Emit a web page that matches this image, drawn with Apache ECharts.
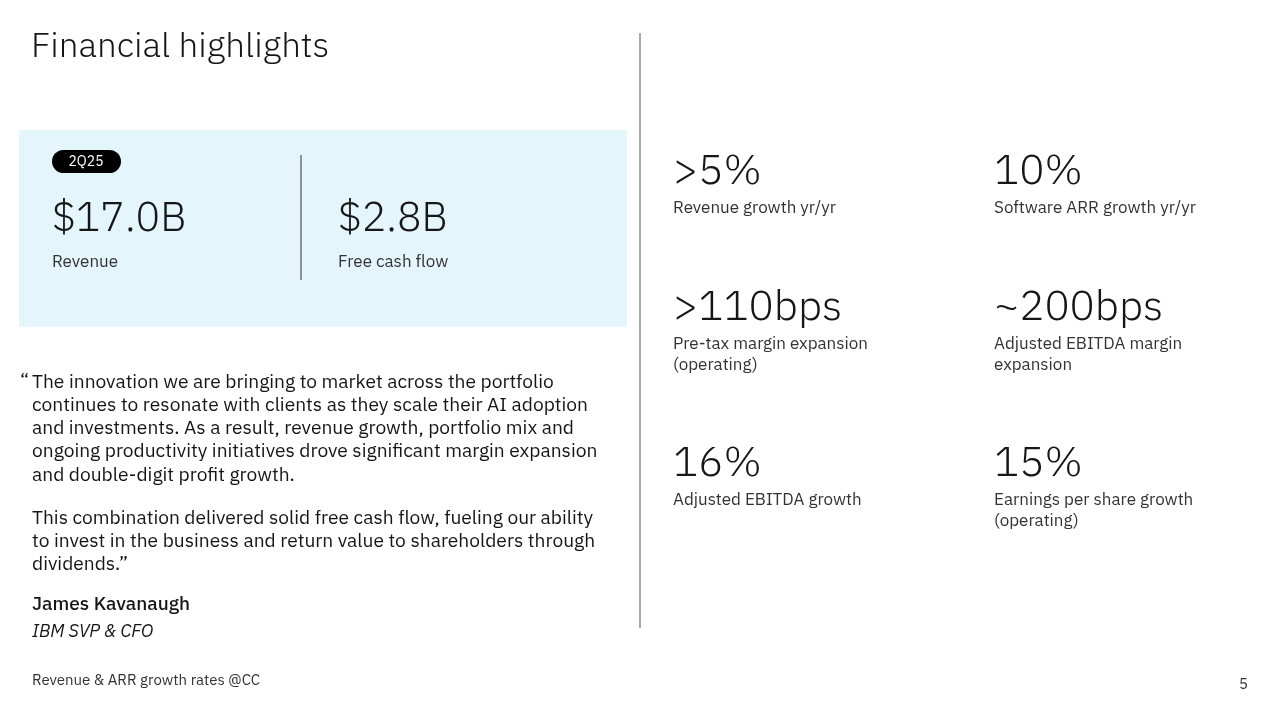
<!DOCTYPE html>
<html>
<head>
<meta charset="utf-8">
<script src="https://cdn.jsdelivr.net/npm/echarts@6/dist/echarts.min.js"></script>
<style>html,body{margin:0;padding:0;background:#fff}#main{width:1280px;height:720px}</style>
</head>
<body>
<div id="main"></div>
<script>
var title='Financial highlights';
var period='2Q25';
var headValues=['$17.0B','$2.8B'];
var headLabels=['Revenue','Free cash flow'];
var kpiValues=['>5%','10%','>110bps','~200bps','16%','15%'];
var kpiLabels=['Revenue growth yr/yr','Software ARR growth yr/yr','Pre-tax margin expansion\n(operating)','Adjusted EBITDA margin\nexpansion','Adjusted EBITDA growth','Earnings per share growth\n(operating)'];
var quotePara1=['The innovation we are bringing to market across the portfolio','continues to resonate with clients as they scale their AI adoption','and investments. As a result, revenue growth, portfolio mix and','ongoing productivity initiatives drove significant margin expansion','and double-digit profit growth.'];
var quotePara2=['This combination delivered solid free cash flow, fueling our ability','to invest in the business and return value to shareholders through','dividends.\u201d'];
var speaker='James Kavanaugh';
var speakerRole='IBM SVP & CFO';
var footnote='Revenue & ARR growth rates @CC';
var pageNo='5';

var F='"IBM Plex Sans","Noto Sans",sans-serif';
var dark='#161616';
var els=[];
function txt(x,y,s,size,opt){
  opt=opt||{};
  els.push({type:'text',x:x,y:y,style:{text:s,fontFamily:F,fontSize:size,fill:opt.fill||dark,fontWeight:opt.weight||'normal',fontStyle:opt.italic?'italic':'normal',textVerticalAlign:'middle',textAlign:opt.align||'left',lineHeight:opt.lh||size*1.25}});
}
txt(31,47,title,35,{weight:300});
els.push({type:'line',shape:{x1:640,y1:33,x2:640,y2:628},style:{stroke:'#8d8d8d',lineWidth:1.5}});
els.push({type:'rect',shape:{x:19,y:130,width:608,height:197},style:{fill:'#e5f5fc'}});
els.push({type:'rect',shape:{x:52,y:150,width:69,height:23,r:11.5},style:{fill:'#000'}});
txt(86,162,period,14,{fill:'#fff',align:'center'});
els.push({type:'line',shape:{x1:301,y1:155,x2:301,y2:280},style:{stroke:'#333',lineWidth:1}});
headValues.forEach(function(v,i){
  var x=i===0?52:338;
  txt(x,219,v,41,{weight:300});
  txt(x,262,headLabels[i],17,{fill:'#333'});
});
var rowY=[172,308,464];
kpiValues.forEach(function(v,i){
  var x=i%2===0?673:994, y=rowY[Math.floor(i/2)];
  txt(x,y,v,42,{weight:300});
  var lines=kpiLabels[i].split('\n');
  lines.forEach(function(l,j){txt(x,208+(y-172)+j*21.5,l,17,{fill:'#333'});});
});
txt(20,382,'\u201c',19);
quotePara1.forEach(function(l,j){txt(32,382+j*23.3,l,19.2);});
quotePara2.forEach(function(l,j){txt(32,518+j*23.3,l,19.2);});
txt(32,605,speaker,19,{weight:500});
txt(32,632,speakerRole,18,{italic:true});
txt(32,681,footnote,15,{fill:'#333'});
txt(1248,685,pageNo,15,{fill:'#333',align:'right'});

var chart=echarts.init(document.getElementById('main'));
chart.setOption({animation:false,backgroundColor:'#fff',graphic:{elements:els}});
</script>
</body>
</html>
